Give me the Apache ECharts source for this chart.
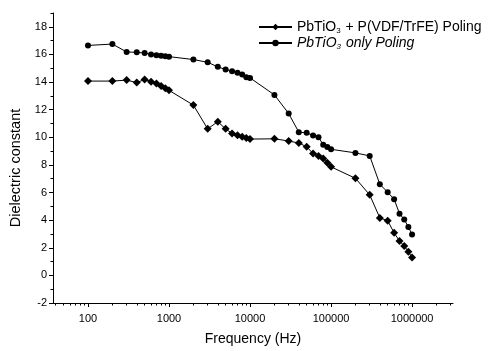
<!DOCTYPE html>
<html>
<head>
<meta charset="utf-8">
<script src="https://cdn.jsdelivr.net/npm/echarts@6/dist/echarts.min.js"></script>
<style>
html,body{margin:0;padding:0;background:#fff;}
#chart{width:488px;height:351px;}
</style>
</head>
<body>
<div id="chart"></div>
<script>
// Frequency (Hz)
var freq = [100,200,300,400,500,600,700,800,900,1000,
  2000,3000,4000,5000,6000,7000,8000,9000,10000,
  20000,30000,40000,50000,60000,70000,80000,90000,100000,
  200000,300000,400000,500000,600000,700000,800000,900000,1000000];
// PbTiO3 + P(VDF/TrFE) Poling (diamonds)
var withCopolymer = [14.07,14.07,14.14,13.96,14.19,14.03,13.89,13.71,13.55,13.4,
  12.33,10.61,11.13,10.61,10.28,10.15,10.03,9.94,9.87,
  9.89,9.73,9.58,9.32,8.82,8.65,8.46,8.15,7.86,
  7.03,5.83,4.16,3.96,3.08,2.49,2.13,1.72,1.29];
// PbTiO3 only Poling (circles)
var onlyPbTiO3 = [16.65,16.75,16.18,16.15,16.1,16.0,15.94,15.9,15.86,15.84,
  15.63,15.43,15.1,14.91,14.79,14.67,14.55,14.35,14.3,
  13.07,11.72,10.37,10.32,10.13,10.01,9.46,9.3,9.13,
  8.87,8.65,6.6,6.02,5.52,4.47,4.04,3.51,2.96];
var xMajorTicks = [100,1000,10000,100000,1000000];
var xMinorTicks = [40,50,60,70,80,90,200,300,400,500,600,700,800,900,
  2000,3000,4000,5000,6000,7000,8000,9000,20000,30000,40000,50000,60000,70000,80000,90000,
  200000,300000,400000,500000,600000,700000,800000,900000,2000000,3000000];
var yMajorTicks = [-2,0,2,4,6,8,10,12,14,16,18];
var yMinorTicks = [-1,1,3,5,7,9,11,13,15,17,19];
var seriesNames = ['PbTiO3 + P(VDF/TrFE) Poling','PbTiO3 only Poling'];

function pairs(xs, ys){ return xs.map(function(x,i){ return [x, ys[i]]; }); }

var FONT = 'Liberation Sans';
var chart = echarts.init(document.getElementById('chart'), null, {renderer:'canvas'});
var xMin = 37, xMax = 3200000;
chart.setOption({
  animation: false,
  backgroundColor: '#fff',
  textStyle: {fontFamily: FONT, color: '#000'},
  grid: {left: 53, right: 35, top: 13, bottom: 45},
  legend: {
    orient: 'vertical', left: 253, top: 15, itemGap: 1,
    itemWidth: 33, itemHeight: 8,
    data: seriesNames,
    formatter: function(name){
      if (name === seriesNames[0]) return '{n|PbTiO}{s|3}{n| + P(VDF/TrFE) Poling}';
      return '{i|PbTiO}{si|3}{i| only Poling}';
    },
    textStyle: {
      fontFamily: FONT, color: '#000', fontSize: 14,
      rich: {
        n: {fontFamily: FONT, fontSize: 14, color: '#000'},
        s: {fontFamily: FONT, fontSize: 8, color: '#000', padding: [8,1,0,0]},
        i: {fontFamily: FONT, fontSize: 14, color: '#000', fontStyle: 'italic'},
        si: {fontFamily: FONT, fontSize: 8, color: '#000', fontStyle: 'italic', padding: [8,1,0,0]}
      }
    }
  },
  xAxis: [{
    type: 'log', min: xMin, max: xMax, gridIndex: 0,
    name: 'Frequency (Hz)', nameLocation: 'middle', nameGap: 29,
    nameTextStyle: {fontFamily: FONT, fontSize: 14, color: '#000'},
    axisLine: {show: true, onZero: false, lineStyle: {color: '#000', width: 1}},
    axisTick: {show: true, length: 4, lineStyle: {color: '#000'}, customValues: xMajorTicks},
    axisLabel: {fontFamily: FONT, fontSize: 11, color: '#000', margin: 10, customValues: xMajorTicks,
      formatter: function(v){ return String(Math.round(v)); }},
    splitLine: {show: false}, minorTick: {show: false}
  }, {
    type: 'log', min: xMin, max: xMax, gridIndex: 0, position: 'bottom',
    axisLine: {show: false, onZero: false},
    axisTick: {show: true, length: 2.5, lineStyle: {color: '#000'}, customValues: xMinorTicks},
    axisLabel: {show: false},
    splitLine: {show: false}
  }],
  yAxis: [{
    type: 'value', min: -2, max: 19, interval: 2,
    name: 'Dielectric constant', nameLocation: 'middle', nameGap: 30,
    nameTextStyle: {fontFamily: FONT, fontSize: 14.5, color: '#000', padding: [0,20,0,0]},
    axisLine: {show: true, onZero: false, lineStyle: {color: '#000', width: 1}},
    axisTick: {show: true, length: 4, lineStyle: {color: '#000'}, customValues: yMajorTicks},
    axisLabel: {fontFamily: FONT, fontSize: 11, color: '#000', margin: 6, customValues: yMajorTicks},
    splitLine: {show: false}
  }, {
    type: 'value', min: -2, max: 19, position: 'left',
    axisLine: {show: false, onZero: false},
    axisTick: {show: true, length: 2.5, lineStyle: {color: '#000'}, customValues: yMinorTicks},
    axisLabel: {show: false},
    splitLine: {show: false}
  }],
  series: [{
    name: seriesNames[0], type: 'line', xAxisIndex: 0, yAxisIndex: 0,
    data: pairs(freq, withCopolymer),
    symbol: 'diamond', symbolSize: 8,
    itemStyle: {color: '#000'},
    lineStyle: {color: '#000', width: 1}
  }, {
    name: seriesNames[1], type: 'line', xAxisIndex: 0, yAxisIndex: 0,
    data: pairs(freq, onlyPbTiO3),
    symbol: 'circle', symbolSize: 6,
    itemStyle: {color: '#000'},
    lineStyle: {color: '#000', width: 1}
  }]
});
</script>
</body>
</html>
